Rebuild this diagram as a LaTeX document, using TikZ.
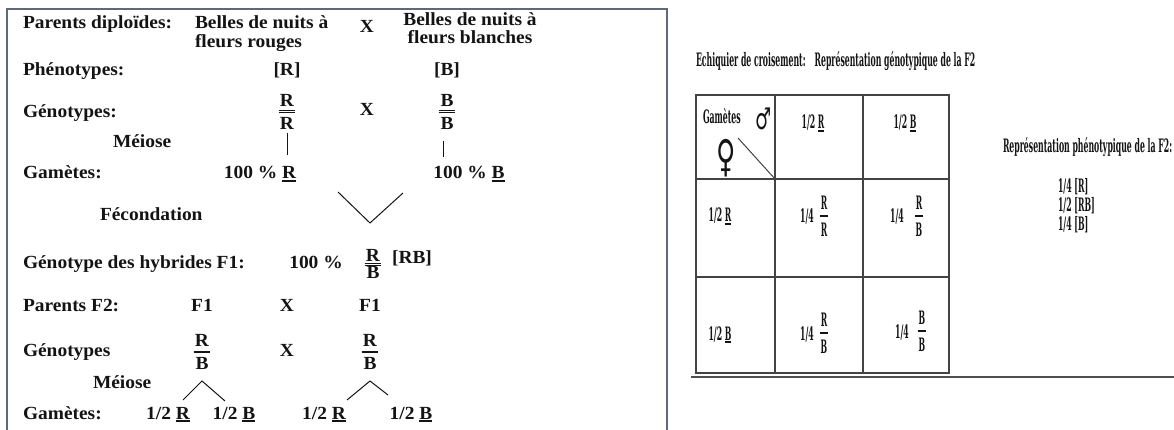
\documentclass[tikz,border=0pt]{standalone}
\usepackage{fontspec}
\setmainfont{Liberation Serif}
\newfontfamily\lf{Liberation Serif}[FakeStretch=1.05]
\newfontfamily\rf{DejaVu Serif}[FakeStretch=0.42]
\newfontfamily\symf{DejaVu Sans}[FakeStretch=0.6]
\definecolor{framec}{RGB}{95,105,120}
\definecolor{inkc}{RGB}{20,20,20}
\newcommand\ul[1]{\setbox0\hbox{#1}\rlap{\rule[-2.6pt]{\wd0}{1.3pt}}\box0}
\newcommand\gfr[4]{{\renewcommand\arraystretch{0}\setlength\arrayrulewidth{1pt}\setlength\doublerulesep{1.5pt}%
\begin{tabular}{@{\hspace{1.2pt}}c@{\hspace{1.2pt}}}\raisebox{0pt}[12pt][#1]{#3}\\\hline\hline\raisebox{0pt}[#2][0pt]{#4}\end{tabular}}}
\tikzset{
  x=1pt, y=-1pt,
  every node/.style={inner sep=0pt, outer sep=0pt, text=inkc},
  lt/.style={font=\lf\bfseries\fontsize{18.5}{19}\selectfont},
  lw/.style={lt, anchor=base west},
  lc/.style={lt, anchor=base},
  rt/.style={font=\rf\bfseries\fontsize{18.5}{19}\selectfont},
  rw/.style={rt, anchor=base west},
  rc/.style={rt, anchor=base},
  ln/.style={draw=inkc, line width=1pt},
  tb/.style={draw=inkc!80, line width=1.3pt},
}
\begin{document}
\begin{tikzpicture}
\useasboundingbox (0,0) rectangle (1174,430);
\fill[white] (0,0) rectangle (1174,430);
% frame
\draw[framec, line width=1.4pt] (7,430) -- (7,9) -- (667,9) -- (667,430);
% ---------- left part ----------
\node[lw] (pd) at (23,29) {Parents diploïdes:};
\node[lw] (br1) at (195,29) {Belles de nuits à};
\node[lw] (br2) at (195,48) {fleurs rouges};
\node[lc] (x1) at (367,33) {X};
\node[lc] (bb1) at (470,26) {Belles de nuits à};
\node[lc] (bb2) at (470,44) {fleurs blanches};
\node[lw] (ph) at (23,76) {Phénotypes:};
\node[lc] (phR) at (287,76) {[R]};
\node[lc] (phB) at (447,76) {[B]};
\node[lw] (ge) at (23,118) {Génotypes:};
\node[lt] (frRR) at (287,112) {\gfr{4pt}{17pt}{R}{R}};
\node[lc] (x2) at (367,116) {X};
\node[lt] (frBB) at (447,112) {\gfr{4pt}{17pt}{B}{B}};
\node[lw] (me1) at (113,148) {Méiose};
\node[lw] (ga1) at (23,179) {Gamètes:};
\node[lc] (gR) at (260,179) {100 \% \ul{R}};
\node[lc] (gB) at (469,179) {100 \% \ul{B}};
\draw[ln] (287,133) coordinate (m1a) -- (287,155) coordinate (m1b);
\draw[ln] (443,141) coordinate (m2a) -- (443,157) coordinate (m2b);
\node[lw] (fe) at (100,221) {Fécondation};
\coordinate (va) at (338,192);
\coordinate (vb) at (370,223);
\coordinate (vc) at (403,193);
\draw[ln] (va) -- (vb) -- (vc);
\node[lw] (gh) at (23,268) {Génotype des hybrides F1:};
\node[lc] (pc) at (316,268) {100 \%};
\node[lt] (frF1) at (373,264) {\gfr{2pt}{13pt}{R}{B}};
\node[lc] (rb) at (412,263) {[RB]};
\node[lw] (pf) at (23,311) {Parents F2:};
\node[lc] (f1a) at (202,311) {F1};
\node[lc] (x3) at (287,311) {X};
\node[lc] (f1b) at (370,311) {F1};
\node[lw] (ge2) at (23,356) {Génotypes};
\node[lt] (frRB1) at (202,352) {\gfr{4pt}{16pt}{R}{B}};
\node[lc] (x4) at (287,356) {X};
\node[lt] (frRB2) at (370,352) {\gfr{4pt}{16pt}{R}{B}};
\node[lw] (me2) at (93,388) {Méiose};
\coordinate (la) at (183,400);
\coordinate (lb) at (202,381);
\coordinate (lc) at (225,401);
\draw[ln] (la) -- (lb) -- (lc);
\coordinate (ra) at (347,400);
\coordinate (rb2) at (370,381);
\coordinate (rc2) at (388,395);
\draw[ln] (ra) -- (rb2) -- (rc2);
\node[lw] (ga2) at (23,419) {Gamètes:};
\node[lc] (g1) at (168,419) {1/2 \ul{R}};
\node[lc] (g2) at (234,419) {1/2 \ul{B}};
\node[lc] (g3) at (324,419) {1/2 \ul{R}};
\node[lc] (g4) at (411,419) {1/2 \ul{B}};
% ---------- right part ----------
\node[rw] (ech) at (696,67) {Echiquier de croisement:\hspace{9pt}Représentation génotypique de la F2};
\draw[tb, line width=1.8pt] (696,95) rectangle (949,373);
\draw[tb] (775,95) -- (775,373);
\draw[tb] (863,95) -- (863,373);
\draw[tb] (696,179) -- (949,179);
\draw[tb] (696,277) -- (949,277);
\draw[tb, line width=1pt] (738,138) -- (775,179);
\draw[draw=inkc!75, line width=1.5pt] (691,377) -- (1174,377);
\node[rw] (gam) at (703,124) {Gamètes};
\node[font=\symf\fontsize{30}{30}\selectfont] (male) at (764,119) {♂};
\node[font=\symf\fontsize{44}{44}\selectfont] (fem) at (726,158) {♀};
\node[rc] (c1) at (813,129) {1/2 \ul{R}};
\node[rc] (c2) at (905,129) {1/2 \ul{B}};
\node[rc] (r2) at (720,222) {1/2 \ul{R}};
\node[rc] (r3) at (720,340) {1/2 \ul{B}};
\node[rc] (q1) at (807,223) {1/4};
\node[rt] (q1f) at (824,217) {\gfr{5pt}{19pt}{R}{R}};
\node[rc] (q2) at (897,223) {1/4};
\node[rt] (q2f) at (919,217) {\gfr{5pt}{19pt}{R}{B}};
\node[rc] (q3) at (807,340) {1/4};
\node[rt] (q3f) at (824,334) {\gfr{5pt}{19pt}{R}{B}};
\node[rc] (q4) at (902,338) {1/4};
\node[rt] (q4f) at (922,332) {\gfr{5pt}{19pt}{B}{B}};
\node[rw] (rp) at (1003,153) {Représentation phénotypique de la F2:};
\node[rw] (p1) at (1058,193) {1/4 [R]};
\node[rw] (p2) at (1058,212) {1/2 [RB]};
\node[rw] (p3) at (1058,231) {1/4 [B]};
\end{tikzpicture}
\end{document}
